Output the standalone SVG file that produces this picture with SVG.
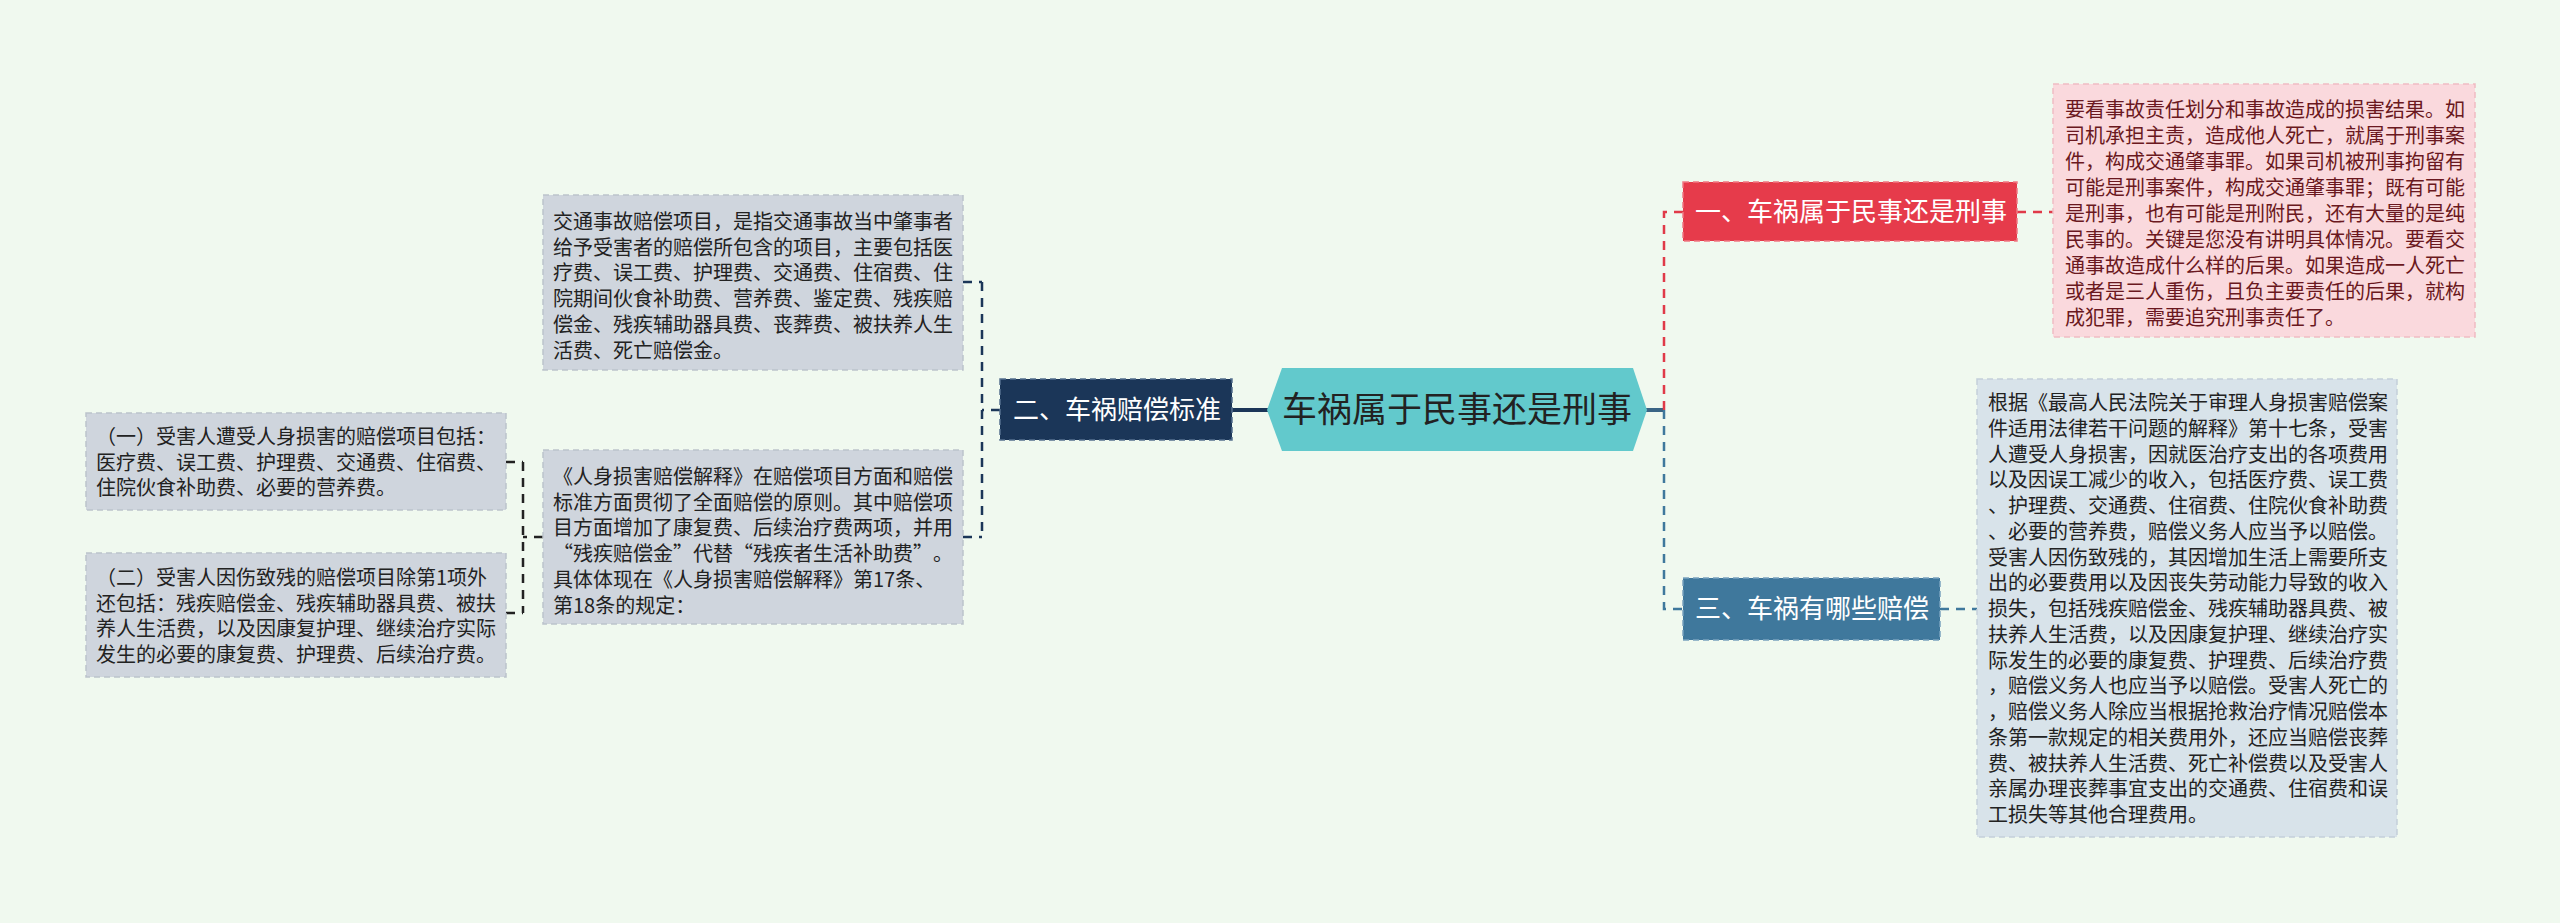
<svg xmlns="http://www.w3.org/2000/svg" width="2560" height="923" viewBox="0 0 2560 923">
<style>
.t{font-family:"Noto Sans CJK SC","Noto Sans",sans-serif;}
.body{font-size:20px;fill:#222;}
.pink{font-size:20px;fill:#6a1820;}
.lbl{font-size:26px;fill:#fff;}
.box{stroke-width:1.5;stroke-dasharray:6,4;}
.dash{fill:none;stroke-width:2.5;stroke-dasharray:9,7;}
</style>
<rect x="0" y="0" width="2560" height="923" fill="#f0f9ef"/>
<g id="connectors">
<line x1="1232" y1="410" x2="1268" y2="410" stroke="#1b3658" stroke-width="4"/>
<line x1="1645" y1="410" x2="1664" y2="410" stroke="#3a6585" stroke-width="4"/>
<path class="dash" d="M1664,410 V212 H1683" stroke="#e03a48"/>
<path class="dash" d="M1664,410 V609 H1683" stroke="#3f789c"/>
<path class="dash" d="M2017,212 H2053" stroke="#e03a48"/>
<path class="dash" d="M1940,609 H1977" stroke="#3f789c"/>
<path class="dash" d="M1000,410 H982 M982,282 V537 M963,282 H982 M963,537 H982" stroke="#1b3658" stroke-width="2"/>
<path class="dash" d="M543,537 H523 M523,462 V613 M506,462 H523 M506,613 H523" stroke="#222" stroke-width="2"/>
</g>
<g id="center">
<polygon points="1267,410 1282,368 1633,368 1647,410 1633,451 1282,451" fill="#62c9cc"/>
<text class="t" x="1457" y="422" font-size="35" fill="#222" text-anchor="middle">车祸属于民事还是刑事</text>
</g>
<g id="n1">
<rect class="box" x="1683" y="182" width="334" height="59" fill="#e63b4b" stroke="#f07a84"/>
<text class="t lbl" x="1695" y="221">一、车祸属于民事还是刑事</text>
</g>
<g id="n2">
<rect class="box" x="1000" y="379" width="232" height="61" fill="#1b3658" stroke="#55708f"/>
<text class="t lbl" x="1013" y="419">二、车祸赔偿标准</text>
</g>
<g id="n3">
<rect class="box" x="1683" y="578" width="257" height="62" fill="#3f789c" stroke="#7aa3bf"/>
<text class="t lbl" x="1695" y="618">三、车祸有哪些赔偿</text>
</g>
<g id="n1a">
<rect class="box" x="2053" y="84" width="422" height="253" fill="#fad9dd" stroke="#efbcc3"/>
<text class="t pink">
<tspan x="2065" y="117">要看事故责任划分和事故造成的损害结果。如</tspan>
<tspan x="2065" y="143">司机承担主责，造成他人死亡，就属于刑事案</tspan>
<tspan x="2065" y="169">件，构成交通肇事罪。如果司机被刑事拘留有</tspan>
<tspan x="2065" y="195">可能是刑事案件，构成交通肇事罪；既有可能</tspan>
<tspan x="2065" y="221">是刑事，也有可能是刑附民，还有大量的是纯</tspan>
<tspan x="2065" y="247">民事的。关键是您没有讲明具体情况。要看交</tspan>
<tspan x="2065" y="273">通事故造成什么样的后果。如果造成一人死亡</tspan>
<tspan x="2065" y="299">或者是三人重伤，且负主要责任的后果，就构</tspan>
<tspan x="2065" y="325">成犯罪，需要追究刑事责任了。</tspan>
</text>
</g>
<g id="n3a">
<rect class="box" x="1977" y="379" width="420" height="458" fill="#d8e3ea" stroke="#c3d0da"/>
<text class="t body">
<tspan x="1988" y="410">根据《最高人民法院关于审理人身损害赔偿案</tspan>
<tspan x="1988" y="435.75">件适用法律若干问题的解释》第十七条，受害</tspan>
<tspan x="1988" y="461.5">人遭受人身损害，因就医治疗支出的各项费用</tspan>
<tspan x="1988" y="487.25">以及因误工减少的收入，包括医疗费、误工费</tspan>
<tspan x="1988" y="513">、护理费、交通费、住宿费、住院伙食补助费</tspan>
<tspan x="1988" y="538.75">、必要的营养费，赔偿义务人应当予以赔偿。</tspan>
<tspan x="1988" y="564.5">受害人因伤致残的，其因增加生活上需要所支</tspan>
<tspan x="1988" y="590.25">出的必要费用以及因丧失劳动能力导致的收入</tspan>
<tspan x="1988" y="616">损失，包括残疾赔偿金、残疾辅助器具费、被</tspan>
<tspan x="1988" y="641.75">扶养人生活费，以及因康复护理、继续治疗实</tspan>
<tspan x="1988" y="667.5">际发生的必要的康复费、护理费、后续治疗费</tspan>
<tspan x="1988" y="693.25">，赔偿义务人也应当予以赔偿。受害人死亡的</tspan>
<tspan x="1988" y="719">，赔偿义务人除应当根据抢救治疗情况赔偿本</tspan>
<tspan x="1988" y="744.75">条第一款规定的相关费用外，还应当赔偿丧葬</tspan>
<tspan x="1988" y="770.5">费、被扶养人生活费、死亡补偿费以及受害人</tspan>
<tspan x="1988" y="796.25">亲属办理丧葬事宜支出的交通费、住宿费和误</tspan>
<tspan x="1988" y="822">工损失等其他合理费用。</tspan>
</text>
</g>
<g id="n2a">
<rect class="box" x="543" y="195" width="420" height="175" fill="#cfd5dd" stroke="#bcc3cc"/>
<text class="t body">
<tspan x="553" y="229">交通事故赔偿项目，是指交通事故当中肇事者</tspan>
<tspan x="553" y="254.7">给予受害者的赔偿所包含的项目，主要包括医</tspan>
<tspan x="553" y="280.4">疗费、误工费、护理费、交通费、住宿费、住</tspan>
<tspan x="553" y="306.1">院期间伙食补助费、营养费、鉴定费、残疾赔</tspan>
<tspan x="553" y="331.8">偿金、残疾辅助器具费、丧葬费、被扶养人生</tspan>
<tspan x="553" y="357.5">活费、死亡赔偿金。</tspan>
</text>
</g>
<g id="n2b">
<rect class="box" x="543" y="450" width="420" height="174" fill="#cfd5dd" stroke="#bcc3cc"/>
<text class="t body">
<tspan x="553" y="484">《人身损害赔偿解释》在赔偿项目方面和赔偿</tspan>
<tspan x="553" y="509.7">标准方面贯彻了全面赔偿的原则。其中赔偿项</tspan>
<tspan x="553" y="535.4">目方面增加了康复费、后续治疗费两项，并用</tspan>
<tspan x="553" y="561.1">“</tspan><tspan x="573">残疾赔偿金</tspan><tspan x="673">”</tspan><tspan x="693">代替</tspan><tspan x="733">“</tspan><tspan x="753">残疾者生活补助费</tspan><tspan x="913">”</tspan><tspan x="933">。</tspan>
<tspan x="553" y="586.8">具体体现在《人身损害赔偿解释》第17条、</tspan>
<tspan x="553" y="612.5">第18条的规定：</tspan>
</text>
</g>
<g id="n2b1">
<rect class="box" x="86" y="413" width="420" height="97" fill="#cfd5dd" stroke="#bcc3cc"/>
<text class="t body">
<tspan x="96" y="444">（一）受害人遭受人身损害的赔偿项目包括：</tspan>
<tspan x="96" y="470">医疗费、误工费、护理费、交通费、住宿费、</tspan>
<tspan x="96" y="495">住院伙食补助费、必要的营养费。</tspan>
</text>
</g>
<g id="n2b2">
<rect class="box" x="86" y="553" width="420" height="124" fill="#cfd5dd" stroke="#bcc3cc"/>
<text class="t body">
<tspan x="96" y="585">（二）受害人因伤致残的赔偿项目除第1项外</tspan>
<tspan x="96" y="610.5">还包括：残疾赔偿金、残疾辅助器具费、被扶</tspan>
<tspan x="96" y="636">养人生活费，以及因康复护理、继续治疗实际</tspan>
<tspan x="96" y="661.5">发生的必要的康复费、护理费、后续治疗费。</tspan>
</text>
</g>
</svg>
